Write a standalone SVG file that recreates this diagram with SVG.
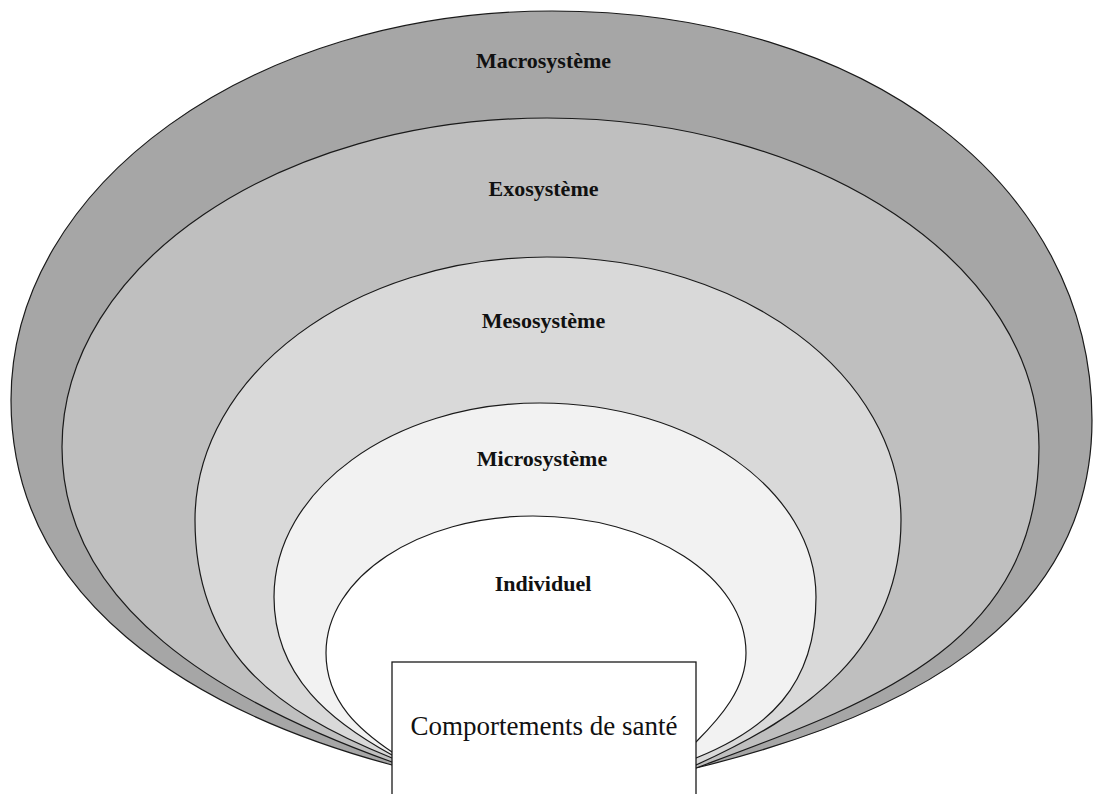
<svg xmlns="http://www.w3.org/2000/svg" width="1094" height="794" viewBox="0 0 1094 794">
<style>
.ring{stroke:#1a1a1a;stroke-width:1.2}
.lbl{font-family:"Liberation Serif","Times New Roman",serif;font-weight:bold;font-size:22px;text-anchor:middle;fill:#111}
.box{fill:#fff;stroke:#1a1a1a;stroke-width:1.3}
.boxt{font-family:"Liberation Serif","Times New Roman",serif;font-size:27px;text-anchor:middle;fill:#111}
</style>
<rect width="1094" height="794" fill="#fff"/>
<g id="macrosysteme">
<path class="ring" fill="#a6a6a6" d="M392,765 C192,711 11,600 11,400 C11,185 253,11 552,11 C866,11 1092,185 1092,420 C1092,625 900,718 696,768 Z"/>
<text class="lbl" x="543.5" y="68">Macrosystème</text>
</g>
<g id="exosysteme">
<path class="ring" fill="#bfbfbf" d="M392,762 C222,701 62,607 62,447 C62,265 279,118 547,118 C819,118 1039,265 1039,447 C1039,647 871,703 696,768 Z"/>
<text class="lbl" x="543.5" y="196">Exosystème</text>
</g>
<g id="mesosysteme">
<path class="ring" fill="#d9d9d9" d="M392,758 C272,710 195,650 195,520 C195,375 353,257 547,257 C742.5,257 901,375 901,520 C901,650 806,715.5 696,765 Z"/>
<text class="lbl" x="543.5" y="328">Mesosystème</text>
</g>
<g id="microsysteme">
<path class="ring" fill="#f2f2f2" d="M392,755 C332,722 274,677 274,597 C274,490 393,403 540,403 C692,403 816,490 816,597 C816,687 766,730 696,758 Z"/>
<text class="lbl" x="542" y="466">Microsystème</text>
</g>
<g id="individuel">
<path class="ring" fill="#ffffff" d="M392,752 C362,731.6 326,703 326,653 C326,577 419,516 533,516 C650.6,516 746,577 746,653 C746,688 721,717 696,742 Z"/>
<text class="lbl" x="543" y="591">Individuel</text>
</g>
<g id="comportements">
<rect class="box" x="392" y="662" width="304" height="150"/>
<text class="boxt" x="544" y="735">Comportements de santé</text>
</g>
<g id="connectors"></g>
</svg>
